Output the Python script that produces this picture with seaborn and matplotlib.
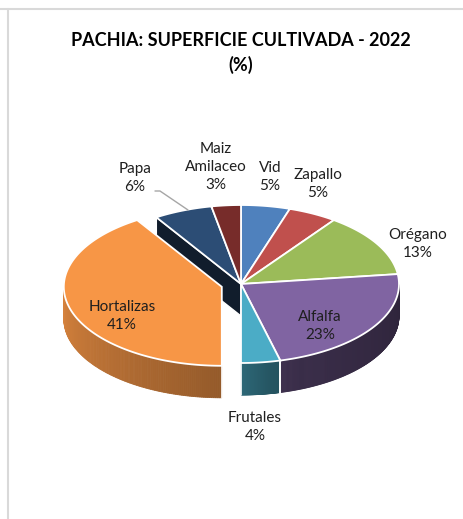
"""Pachia: superficie cultivada 2022, 3D-style exploded pie (Excel look)."""

import matplotlib

matplotlib.use("Agg")

import numpy as np
import seaborn as sns
from matplotlib import pyplot as plt
from matplotlib.colors import to_rgb
from matplotlib.patches import Polygon

# data, clockwise from 12 o'clock
crops = ["Vid", "Zapallo", "Orégano", "Alfalfa", "Frutales", "Hortalizas", "Papa", "Maiz\nAmilaceo"]
shares = [5, 5, 13, 23, 4, 41, 6, 3]
colors = ["#4F81BD", "#C0504D", "#9BBB59", "#8064A2", "#4BACC6", "#F79646", "#2C4D75", "#772C2A"]
exploded = "Hortalizas"
title = "PACHIA: SUPERFICIE CULTIVADA - 2022\n(%)"

# geometry in pixels
W, H = 464, 519
CX, CY = 241, 284
RX, RY = 158, 79
DEPTH = 32
EXPLODE = 20

sns.set_style("white")
plt.rcParams["font.family"] = ["Lato", "DejaVu Sans"]

fig = plt.figure(figsize=(W / 100, H / 100), dpi=100)
ax = fig.add_axes([0, 0, 1, 1])
ax.set_xlim(0, W)
ax.set_ylim(H, 0)
ax.axis("off")

# chart frame
ax.plot([0, W], [8.5, 8.5], color="#D9D9D9", lw=1.5)
ax.plot([8.5, 8.5], [8.5, H], color="#D9D9D9", lw=1.5)


def pt(theta, dx=0.0, dy=0.0):
    t = np.radians(theta)
    return CX + dx + RX * np.cos(t), CY + dy - RY * np.sin(t)


def shade(theta):
    phi = (theta % 360) - 180
    return np.interp(phi, [0, 90, 100, 110, 180], [0.87, 0.6, 0.5, 0.45, 0.36])


def darker(c, f):
    return tuple(v * f for v in to_rgb(c))


total = sum(shares)
starts = 90 - 360 * np.concatenate([[0], np.cumsum(shares)[:-1]]) / total
ends = starts - 360 * np.array(shares) / total

slices = []
for name, a1, a2, col in zip(crops, starts, ends, colors):
    dx = dy = 0.0
    if name == exploded:
        mid = np.radians((a1 + a2) / 2)
        dx = EXPLODE * np.cos(mid)
        dy = -EXPLODE * np.sin(mid) * RY / RX
    slices.append((name, a1, a2, col, dx, dy))

# radial wall of the slice next to the exploded one (seen through the gap)
idx = crops.index(exploded)
name, a1, a2, col, dx, dy = slices[(idx + 1) % len(slices)]
p = pt(a1)
ax.add_patch(Polygon([(CX, CY), p, (p[0], p[1] + DEPTH), (CX, CY + DEPTH)],
                     closed=True, fc=darker(col, 0.38), ec="white", lw=1.0, zorder=1))

# outer walls (front half only)
for name, a1, a2, col, dx, dy in slices:
    th = np.linspace(a1, a2, 200)
    front = np.sin(np.radians(th)) < 0
    if not front.any():
        continue
    th = th[front]
    for t0, t1 in zip(th[:-1], th[1:]):
        q0, q1 = pt(t0, dx, dy), pt(t1, dx, dy)
        c = darker(col, shade((t0 + t1) / 2))
        ax.add_patch(Polygon([q0, q1, (q1[0], q1[1] + DEPTH), (q0[0], q0[1] + DEPTH)],
                             closed=True, fc=c, ec=c, lw=0.6, zorder=2))
    for t in (th[0], th[-1]):
        if abs(t - a1) < 1e-6 or abs(t - a2) < 1e-6:
            q = pt(t, dx, dy)
            ax.plot([q[0], q[0]], [q[1], q[1] + DEPTH], color="white", lw=1.2, zorder=3)

# top faces
for name, a1, a2, col, dx, dy in slices:
    th = np.linspace(a1, a2, 120)
    arc = [pt(t, dx, dy) for t in th]
    ax.add_patch(Polygon([(CX + dx, CY + dy)] + arc, closed=True,
                         fc=col, ec="white", lw=1.3, zorder=4))

# data labels
label_color = "#1F1F1F"
fs = 11
labels = {
    "Vid": (270, 177),
    "Zapallo": (318, 184),
    "Orégano": (418, 244),
    "Alfalfa": (320, 326),
    "Frutales": (255, 427),
    "Hortalizas": (122, 316),
    "Papa": (135, 178),
    "Maiz\nAmilaceo": (216, 167),
}
for name, share in zip(crops, shares):
    x, y = labels[name]
    ax.text(x, y, f"{name}\n{share}%", ha="center", va="center", fontsize=fs,
            color=label_color, linespacing=1.35, zorder=6)

# leader line for Papa
ax.plot([155, 160, 188], [191, 191, 210], color="#A6A6A6", lw=1.0, zorder=5)

ax.text(241, 53, title, ha="center", va="center", fontsize=13, fontweight="bold",
        color="black", linespacing=1.5)

fig.savefig("out.png", dpi=100)
